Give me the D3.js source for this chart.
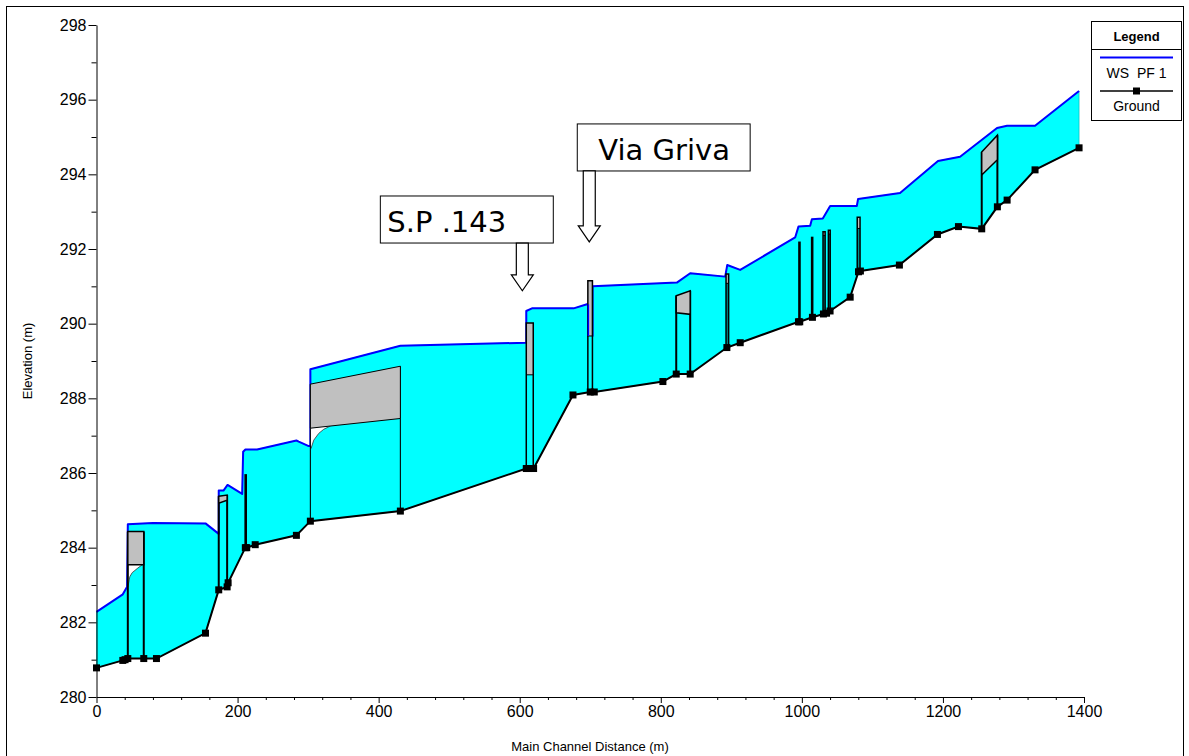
<!DOCTYPE html>
<html><head><meta charset="utf-8">
<script src="https://cdn.jsdelivr.net/npm/d3@7"></script>
<style>
html,body{margin:0;padding:0;background:#fff;}
svg{display:block;font-family:"Liberation Sans",Arial,sans-serif;}
</style></head><body>
<svg id="c" width="1189" height="756"></svg>
<script>
// ---------- data ----------
const groundStation = [0,37.3,40.5,44.4,67,85,154.5,173.3,185.2,186.6,211,213,225,283.4,303.2,430.8,609.3,613,619.7,675.5,700,705.7,803,821.9,841.7,893.7,912.6,995.2,997,1015,1030.6,1035,1040,1068.5,1080.3,1083,1138.3,1192.2,1222,1255,1277.2,1291,1330.6,1393];
const groundElev    = [280.78,280.98,281.0,281.03,281.03,281.03,281.71,282.87,282.95,283.06,284.0,284.0,284.08,284.33,284.71,284.98,286.12,286.12,286.12,288.09,288.17,288.17,288.45,288.65,288.65,289.36,289.49,290.05,290.05,290.17,290.26,290.28,290.34,290.71,291.39,291.41,291.57,292.39,292.6,292.54,293.13,293.31,294.12,294.71];

const wsStation = [0,37.3,43.4,44.4,80,154.5,173.3,173.3,180,185.8,206.5,207.9,211.1,227.7,283.4,286.7,300.9,303.2,303.2,430.8,609.3,609.3,617.4,676.4,695.3,697.1,697.1,703.3,703.3,822.8,841.7,891.3,894.2,912.6,990.5,995.2,1011.8,1014.2,1029.7,1040.1,1077.9,1079.7,1139.2,1193,1224.3,1276.7,1290.9,1330.6,1393];
const wsElev    = [282.28,282.75,282.95,284.63,284.66,284.65,284.37,285.53,285.53,285.68,285.44,286.57,286.63,286.63,286.87,286.84,286.72,286.72,288.78,289.41,289.49,290.34,290.41,290.41,290.52,290.52,289.67,289.67,291.0,291.1,291.35,291.26,291.57,291.44,292.31,292.6,292.62,292.8,292.82,293.15,293.15,293.34,293.5,294.36,294.47,295.24,295.3,295.3,296.23];

// bridge decks: station left/right, top (deck) elevation left/right, low chord elevation left/right
const deckX0   = [44.4, 173.3, 303.2, 821.9, 1255];
const deckX1   = [67, 185.2, 430.8, 841.7, 1277.2];
const deckTop0 = [284.43, 285.38, 288.38, 290.75, 294.6];
const deckTop1 = [284.43, 285.41, 288.86, 290.88, 295.05];
const deckLow0 = [283.54, 285.19, 287.2, 290.29, 293.98];
const deckLow1 = [283.54, 285.27, 287.46, 290.25, 294.39];

// water surface inside bridge openings (below low chord)
const inner1Station = [44.4, 44.9, 47.2, 50.6, 57.7, 64.6];
const inner1Elev    = [282.95, 282.98, 283.22, 283.33, 283.44, 283.54];
const inner2Station = [303.2, 304.2, 308, 315, 322.1, 331.6];
const inner2Elev    = [286.72, 286.66, 286.88, 287.06, 287.17, 287.26];

// narrow structures (culvert/weir sections): station left/right, top, bottom of gray part
const colX0   = [609.3, 696.6, 892.5, 1030, 1037.6, 1078.5];
const colX1   = [619.2, 703.1, 896.2, 1033, 1040.2, 1082.5];
const colTop  = [290.02, 291.15, 291.33, 292.46, 292.5, 292.85];
const colGray = [288.63, 289.67, 291.08, 292.36, 292.4, 292.55];

// single piers: station, top elevation
const pierStation = [211.5, 996.6, 1014.6];
const pierTop     = [285.97, 292.2, 292.33];

// annotations
const annotLabels  = ["S.P .143", "Via Griva"];
const annotTipX    = [603.7, 698.6];
const annotTipY    = [290.88, 292.19];
const annotBoxX0   = [402.4, 681.6];
const annotBoxX1   = [647.6, 926.7];
const annotBoxTop  = [293.42, 295.35];
const annotBoxBot  = [292.16, 294.09];
const annotTextX   = [412.3, 711.4];

const yTicks = d3.range(280, 299, 2);
const yMinor = d3.range(281, 298, 2);
const xTicks = d3.range(0, 1401, 200);
const xMinor = d3.range(0, 1401, 40).filter(v => v % 200 !== 0);

const legendTitle = "Legend";
const legendItems = ["WS  PF 1", "Ground"];
const xTitle = "Main Channel Distance (m)";
const yTitle = "Elevation (m)";

// ---------- drawing ----------
const svg = d3.select("#c");
const x = d3.scaleLinear().domain([0, 1400]).range([96.5, 1084]);
const y = d3.scaleLinear().domain([280, 298]).range([697, 25]);

svg.append("rect").attr("x", 6.5).attr("y", 6.5).attr("width", 1177).attr("height", 760)
  .attr("fill", "none").attr("stroke", "#000").attr("stroke-width", 1);

const ground = groundStation.map((s, i) => [s, groundElev[i]]);
const ws = wsStation.map((s, i) => [s, wsElev[i]]);
const line = d3.line().x(d => x(d[0])).y(d => y(d[1]));

// water fill
const poly = ws.concat(ground.slice().reverse());
svg.append("path").attr("d", line(poly) + "Z").attr("fill", "#00FFFF").attr("stroke", "#00B0B0").attr("stroke-width", 0.6);

// water surface line
svg.append("path").attr("d", line(ws)).attr("fill", "none").attr("stroke", "#0000FF").attr("stroke-width", 2).attr("stroke-linejoin", "round");

// inner water surfaces (white gap under low chord)
function innerGap(st, el, lowX1, lowY) {
  const pts = st.map((s, i) => [s, el[i]]);
  const gap = [[st[0], lowY[0]]].concat([[lowX1, lowY[1]]]).concat(pts.slice().reverse());
  svg.append("path").attr("d", line(gap) + "Z").attr("fill", "#fff").attr("stroke", "none");
  svg.append("path").attr("d", line(pts)).attr("fill", "none").attr("stroke", "#333").attr("stroke-width", 0.8);
}
innerGap(inner1Station, inner1Elev, inner1Station[inner1Station.length - 1], [deckLow0[0], deckLow1[0]]);
innerGap(inner2Station, inner2Elev, inner2Station[inner2Station.length - 1], [deckLow0[2], deckLow0[2] + (deckLow1[2] - deckLow0[2]) * (331.6 - 303.2) / (430.8 - 303.2)]);

// ground elevation lookup
function gAt(s) {
  for (let i = 0; i < ground.length - 1; i++) {
    if (s >= ground[i][0] && s <= ground[i + 1][0]) {
      const t = (s - ground[i][0]) / ((ground[i + 1][0] - ground[i][0]) || 1);
      return ground[i][1] + t * (ground[i + 1][1] - ground[i][1]);
    }
  }
  return ground[ground.length - 1][1];
}

// bridge decks
deckX0.forEach((x0, i) => {
  const x1 = deckX1[i];
  const narrow = (x1 - x0) < 25;
  const sw = narrow ? 2 : 1.1;
  svg.append("line").attr("x1", x(x0)).attr("x2", x(x0)).attr("y1", y(gAt(x0))).attr("y2", y(deckTop0[i]))
    .attr("stroke", "#000").attr("stroke-width", sw);
  svg.append("line").attr("x1", x(x1)).attr("x2", x(x1)).attr("y1", y(gAt(x1))).attr("y2", y(deckTop1[i]))
    .attr("stroke", "#000").attr("stroke-width", sw);
  const p = [[x0, deckTop0[i]], [x1, deckTop1[i]], [x1, deckLow1[i]], [x0, deckLow0[i]]];
  svg.append("path").attr("d", line(p) + "Z").attr("fill", "#C0C0C0").attr("stroke", "#000").attr("stroke-width", narrow ? 1.5 : 1);
});

// narrow structures
colX0.forEach((x0, i) => {
  const x1 = colX1[i];
  const gb = Math.max(gAt(x0), gAt(x1));
  svg.append("rect").attr("x", x(x0)).attr("width", x(x1) - x(x0)).attr("y", y(colGray[i])).attr("height", y(gb) - y(colGray[i]))
    .attr("fill", i >= 2 ? "#008C8C" : "#00FFFF").attr("stroke", "none");
  svg.append("rect").attr("x", x(x0)).attr("width", x(x1) - x(x0)).attr("y", y(colTop[i])).attr("height", y(colGray[i]) - y(colTop[i]))
    .attr("fill", "#BEBEBE").attr("stroke", "none");
  svg.append("path").attr("d", line([[x0, gAt(x0)], [x0, colTop[i]], [x1, colTop[i]], [x1, gAt(x1)]]))
    .attr("fill", "none").attr("stroke", "#000").attr("stroke-width", 1.5);
  svg.append("line").attr("x1", x(x0)).attr("x2", x(x1)).attr("y1", y(colGray[i])).attr("y2", y(colGray[i]))
    .attr("stroke", "#000").attr("stroke-width", 1);
});
// blue edge on structure at 697 m (water surface drawn along it)
svg.append("line").attr("x1", x(697.3)).attr("x2", x(697.3)).attr("y1", y(290.52)).attr("y2", y(289.67))
  .attr("stroke", "#0000FF").attr("stroke-width", 1.5);

// piers
pierStation.forEach((s, i) => {
  svg.append("line").attr("x1", x(s)).attr("x2", x(s)).attr("y1", y(gAt(s))).attr("y2", y(pierTop[i]))
    .attr("stroke", "#000").attr("stroke-width", 2.6);
});

// ground line + markers
svg.append("path").attr("d", line(ground)).attr("fill", "none").attr("stroke", "#000").attr("stroke-width", 2);
svg.selectAll("rect.gm").data(ground).enter().append("rect").attr("class", "gm")
  .attr("x", d => x(d[0]) - 3.5).attr("y", d => y(d[1]) - 3.5).attr("width", 7).attr("height", 7).attr("fill", "#000");

// axes
const gy = svg.append("g").attr("transform", "translate(96.5,0)");
gy.call(d3.axisLeft(y).tickValues(yTicks).tickSize(8).tickSizeOuter(0).tickPadding(2).tickFormat(d3.format("d")));
const gym = svg.append("g").attr("transform", "translate(96.5,0)");
gym.call(d3.axisLeft(y).tickValues(yMinor).tickSize(5).tickSizeOuter(0).tickFormat(""));
gym.select(".domain").remove();
const gx = svg.append("g").attr("transform", "translate(0,697)");
gx.call(d3.axisBottom(x).tickValues(xTicks).tickSize(6).tickSizeOuter(0).tickPadding(3).tickFormat(d3.format("d")));
const gxm = svg.append("g").attr("transform", "translate(0,697)");
gxm.call(d3.axisBottom(x).tickValues(xMinor).tickSize(3).tickSizeOuter(0).tickFormat(""));
gxm.select(".domain").remove();
svg.selectAll(".tick text").attr("font-size", 16).attr("font-family", "Liberation Sans, Arial, sans-serif").attr("fill", "#000");
svg.selectAll(".domain, .tick line").attr("stroke", "#000");

svg.append("text").attr("x", 590).attr("y", 751).attr("text-anchor", "middle").attr("font-size", 13).text(xTitle);
svg.append("text").attr("transform", "translate(32,361) rotate(-90)").attr("text-anchor", "middle").attr("font-size", 13).text(yTitle);

// annotations
annotLabels.forEach((lab, i) => {
  const bx0 = x(annotBoxX0[i]), bx1 = x(annotBoxX1[i]), by0 = y(annotBoxTop[i]), by1 = y(annotBoxBot[i]);
  svg.append("rect").attr("x", bx0).attr("y", by0).attr("width", bx1 - bx0).attr("height", by1 - by0)
    .attr("fill", "#fff").attr("stroke", "#000").attr("stroke-width", 1);
  svg.append("text").attr("x", x(annotTextX[i])).attr("y", by1 - 11).attr("font-size", 29)
    .attr("font-family", "DejaVu Sans, Verdana, sans-serif").text(lab);
  const ax = x(annotTipX[i]), tip = y(annotTipY[i]);
  const hw = 6, hh = 11, hl = 16;
  const ar = [[ax - hw, by1], [ax + hw, by1], [ax + hw, tip - hl], [ax + hh, tip - hl], [ax, tip], [ax - hh, tip - hl], [ax - hw, tip - hl]];
  svg.append("path").attr("d", d3.line()(ar) + "Z").attr("fill", "#fff").attr("stroke", "#000").attr("stroke-width", 1.2);
});

// legend
const lg = svg.append("g");
lg.append("rect").attr("x", 1091.5).attr("y", 21.5).attr("width", 90).attr("height", 99).attr("fill", "#fff").attr("stroke", "#000");
lg.append("line").attr("x1", 1091.5).attr("x2", 1181.5).attr("y1", 49.5).attr("y2", 49.5).attr("stroke", "#000");
lg.append("text").attr("x", 1136.5).attr("y", 41).attr("text-anchor", "middle").attr("font-size", 13).attr("font-weight", "bold").text(legendTitle);
lg.append("line").attr("x1", 1100).attr("x2", 1173).attr("y1", 57.5).attr("y2", 57.5).attr("stroke", "#0000FF").attr("stroke-width", 2);
lg.append("text").attr("x", 1136.5).attr("y", 78).attr("text-anchor", "middle").attr("font-size", 14).attr("xml:space", "preserve").style("white-space", "pre").text(legendItems[0]);
lg.append("line").attr("x1", 1100).attr("x2", 1173).attr("y1", 91).attr("y2", 91).attr("stroke", "#000").attr("stroke-width", 1.5);
lg.append("rect").attr("x", 1133).attr("y", 87.5).attr("width", 7).attr("height", 7).attr("fill", "#000");
lg.append("text").attr("x", 1136.5).attr("y", 111).attr("text-anchor", "middle").attr("font-size", 14).text(legendItems[1]);
</script>
</body></html>
